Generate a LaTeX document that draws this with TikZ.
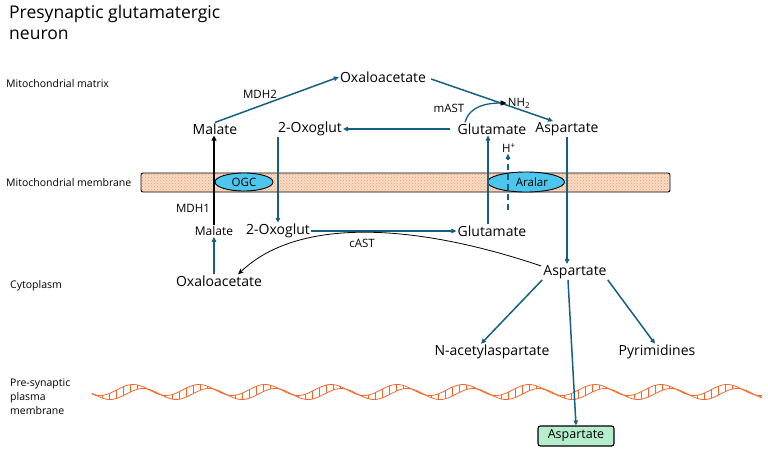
\documentclass[tikz,border=0pt]{standalone}
\usepackage{fontspec}
\setmainfont{Open Sans}
\usetikzlibrary{arrows.meta,patterns,shapes.geometric}

\definecolor{flowblue}{HTML}{156082}
\definecolor{membpeach}{HTML}{F9DCC6}
\definecolor{membdot}{HTML}{EE9A66}
\definecolor{carrier}{HTML}{4CC6EC}
\definecolor{ribbon}{HTML}{F2662A}
\definecolor{boxgreen}{HTML}{B6EDCD}

\tikzset{
  met/.style={inner sep=1pt, font=\fontsize{14}{16}\selectfont},
  enz/.style={inner sep=1pt, font=\fontsize{11.5}{13}\selectfont},
  region/.style={inner sep=0pt, anchor=west, align=left, font=\fontsize{10.5}{14}\selectfont},
  carrierbox/.style={ellipse, draw, fill=carrier, line width=0.9pt, inner sep=0pt, font=\fontsize{11.5}{13}\selectfont},
  flow/.style={flowblue, line width=1.5pt, -{Triangle[length=5pt,width=4.5pt]}},
}

\begin{document}
\begin{tikzpicture}[x=1pt,y=-1pt]
    \useasboundingbox (0,0) rectangle (768,452);

    % Title and region labels on the left
    \node[anchor=north west, align=left, inner sep=0pt, font=\fontsize{17.5}{21}\selectfont] (title) at (9,5) {Presynaptic glutamatergic\\neuron};
    \node[region] (matrix) at (6,84) {Mitochondrial matrix};
    \node[region] (membrane) at (6,183) {Mitochondrial membrane};
    \node[region] (cytoplasm) at (10,286) {Cytoplasm};
    \node[region] (plasma) at (10,397) {Pre-synaptic\\plasma\\membrane};

    % Mitochondrial membrane band
    \fill[membpeach, rounded corners=2pt] (141,173) rectangle (670,192);
    \fill[pattern=crosshatch dots, pattern color=membdot] (142,174) rectangle (669,191);
    \draw[rounded corners=2pt, line width=0.9pt] (141,173) rectangle (670,192);

    % Carriers in the membrane
    \node[carrierbox, minimum width=58, minimum height=18] (ogc) at (244,182) {OGC};
    \node[carrierbox, minimum width=77, minimum height=20] (aralar) at (526,182) {\hspace*{12pt}Aralar};

    % Pre-synaptic plasma membrane (twisted ribbon), period 66
    \draw[ribbon, line width=0.8pt] plot[domain=92:762, samples=300] (\x, {392-5.5*cos((\x-133)*5.4545)-2});
    \draw[ribbon, line width=0.8pt] plot[domain=92:762, samples=300] (\x, {392-5.5*cos((\x-143)*5.4545)+2});
    \foreach \r in {95,102,...,760}
        \draw[ribbon, line width=0.5pt] (\r, {392-5.5*cos((\r-133)*5.4545)-2}) -- (\r, {392-5.5*cos((\r-143)*5.4545)+2});

    % Metabolites in the mitochondrial matrix
    \node[met] (oaaM) at (383,77) {Oxaloacetate};
    \node[met] (malM) at (215,129) {Malate};
    \node[met] (oxoM) at (310,129) {2-Oxoglut};
    \node[met] (gluM) at (492,129) {Glutamate};
    \node[met] (aspM) at (567,129) {Aspartate};
    \node[enz] (nh) at (519,103) {NH\textsubscript{2}};
    \node[enz] (mast) at (449,108) {mAST};
    \node[enz] (mdh2) at (260,94) {MDH2};
    \node[enz] (hplus) at (509,148) {H\textsuperscript{+}};

    % Metabolites in the cytoplasm
    \node[enz] (mdh1) at (193,208) {MDH1};
    \node[met, font=\fontsize{12}{14}\selectfont] (malC) at (214,231) {Malate};
    \node[met] (oxoC) at (278,231) {2-Oxoglut};
    \node[met] (gluC) at (492,231) {Glutamate};
    \node[enz] (cast) at (362,243) {cAST};
    \node[met] (oaaC) at (219,281) {Oxaloacetate};
    \node[met] (aspC) at (575,272) {Aspartate};
    \node[met] (naa) at (492,352) {N-acetylaspartate};
    \node[met] (pyr) at (657,352) {Pyrimidines};

    % Aspartate leaving the neuron
    \node[draw, fill=boxgreen, rounded corners=2.5pt, line width=1.1pt, minimum width=76, minimum height=20, font=\fontsize{12.5}{14}\selectfont] (aspOut) at (576,436) {Aspartate};

    % Matrix reactions
    \draw[flow] (malM.north) -- (oaaM.west);
    \draw[flow] ([shift={(4,2)}]oaaM.east) -- ([xshift=-14pt]aspM.north);
    \draw[flowblue, line width=1.3pt, -{Triangle[color=black,length=6pt,width=5pt]}] ([xshift=-27pt]gluM.north) to[out=75, in=180] (nh.west);
    \draw[flow] ([xshift=-6pt]gluM.west) -- (oxoM.east);

    % Transport across the mitochondrial membrane
    \draw[black, line width=1.8pt, -{Triangle[length=5pt,width=5pt]}] (malC.north) -- (malC.north |- malM.south);
    \draw[flow] ([xshift=1pt]oxoM.south west) -- ([xshift=1pt]oxoM.south west |- oxoC.north);
    \draw[flow] ([xshift=-4pt]gluC.north) -- ([xshift=-4pt]gluC.north |- gluM.south);
    \coordinate (hbase) at (508,210);
    \draw[flow, line width=1.2pt, dash pattern=on 6pt off 4pt] (hbase) -- (hbase |- hplus.south);
    \draw[flow] (aspM.south) -- (aspM.south |- aspC.north);

    % Cytoplasm reactions
    \draw[flow] (malC.south |- oaaC.north) -- (malC.south);
    \draw[flow] (oxoC.east) -- (gluC.west);
    \draw[black, line width=0.8pt, -{Stealth[length=6pt,width=5pt]}] ([shift={(-1,-6)}]aspC.west) .. controls (420,225) and (300,215) .. ([xshift=19pt]oaaC.north);
    \draw[flow] (aspC.south west) -- ([xshift=-11pt]naa.north);
    \draw[flow] (aspC.south east) -- ([xshift=-2pt]pyr.north);
    \draw[flow] ([xshift=-7pt]aspC.south) -- (aspOut.north);

\end{tikzpicture}
\end{document}
